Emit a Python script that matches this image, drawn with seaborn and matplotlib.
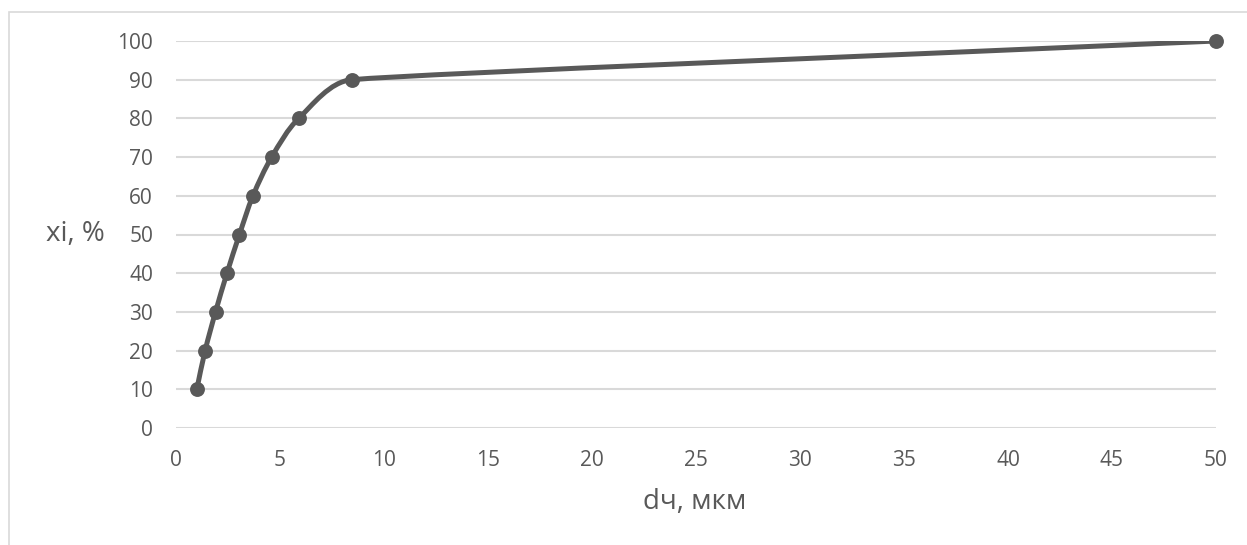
import numpy as np
import pandas as pd
import matplotlib
matplotlib.use("Agg")
import matplotlib.pyplot as plt
from matplotlib.path import Path
from matplotlib.patches import PathPatch, Rectangle
import seaborn as sns

# Data
d_um = [1.0, 1.4, 1.9, 2.45, 3.05, 3.7, 4.6, 5.9, 8.45, 50.0]
xi_pct = [10, 20, 30, 40, 50, 60, 70, 80, 90, 100]
x_ticks = [0, 5, 10, 15, 20, 25, 30, 35, 40, 45, 50]
y_ticks = [0, 10, 20, 30, 40, 50, 60, 70, 80, 90, 100]
x_label = "dч, мкм"
y_label = "xi, %"

df = pd.DataFrame({"d": d_um, "xi": xi_pct})

sns.set_theme(style="white")
plt.rcParams["font.family"] = ["Open Sans", "DejaVu Sans"]

W, H, DPI = 1247, 545, 100
fig = plt.figure(figsize=(W / DPI, H / DPI), dpi=DPI)
ax = fig.add_axes([176 / W, 1 - 428 / H, (1216 - 176) / W, (428 - 41) / H])

line_col = "#595959"
grid_col = "#d9d9d9"
text_col = "#595959"

ax.set_xlim(0, 50)
ax.set_ylim(0, 100)

# smooth curve (Excel-like smoothing) via cubic Bezier path in screen-scaled space
sx = (1216 - 176) / 50.0
sy = (428 - 41) / 100.0
P = np.column_stack([np.array(d_um) * sx, np.array(xi_pct) * sy])
n = len(P)
seg = [np.linalg.norm(P[i + 1] - P[i]) for i in range(n - 1)]
M = []
for i in range(n):
    if i == 0:
        m = (P[1] - P[0]) * 2
    elif i == n - 1:
        m = (P[-1] - P[-2]) * 2
    else:
        m = P[i + 1] - P[i - 1]
    M.append(m / 6.0)


def capped(v, limit):
    L = np.linalg.norm(v)
    return v / L * limit if L > limit else v


verts = [P[0]]
codes = [Path.MOVETO]
for i in range(n - 1):
    dlen = seg[i]
    lim_a = dlen / 3
    if i > 0:
        lim_a = min(lim_a, 1.2 * seg[i - 1])
    lim_b = dlen / 3
    if i + 1 < n - 1:
        lim_b = min(lim_b, 1.2 * seg[i + 1])
    a = capped(M[i], lim_a)
    b = capped(M[i + 1], lim_b)
    verts += [P[i] + a, P[i + 1] - b, P[i + 1]]
    codes += [Path.CURVE4] * 3
verts = np.array(verts) / np.array([sx, sy])
ax.add_patch(PathPatch(Path(verts, codes), facecolor="none", edgecolor=line_col,
                       lw=3.6, capstyle="round", joinstyle="round", zorder=3))

sns.scatterplot(data=df, x="d", y="xi", ax=ax, color=line_col, s=115,
                edgecolor=line_col, linewidth=0, zorder=4, clip_on=False)

ax.set_xticks(x_ticks)
ax.set_yticks(y_ticks)
ax.set_xticklabels([str(v) for v in x_ticks])
ax.set_yticklabels([str(v) for v in y_ticks])
ax.tick_params(axis="x", length=0, pad=16, labelsize=15, labelcolor=text_col)
ax.tick_params(axis="y", length=0, pad=16.5, labelsize=15, labelcolor=text_col)
ax.yaxis.grid(True, color=grid_col, lw=1.5)
ax.xaxis.grid(False)
for s in ax.spines.values():
    s.set_visible(False)
ax.set_xlabel("")
ax.set_ylabel("")

fig.text(695 / W, 1 - 502 / H, x_label, ha="center", va="center",
         fontsize=20, color=text_col)
fig.text(105 / W, 1 - 234 / H, y_label, ha="right", va="center",
         fontsize=20, color=text_col)

# outer chart border (partially cropped in reference)
fig.patches.append(Rectangle((9 / W, -0.1), 1.2, 1 - 12 / H + 0.1,
                             transform=fig.transFigure, fill=False,
                             edgecolor="#d9d9d9", lw=1.2))

fig.savefig("out.png", dpi=DPI)
